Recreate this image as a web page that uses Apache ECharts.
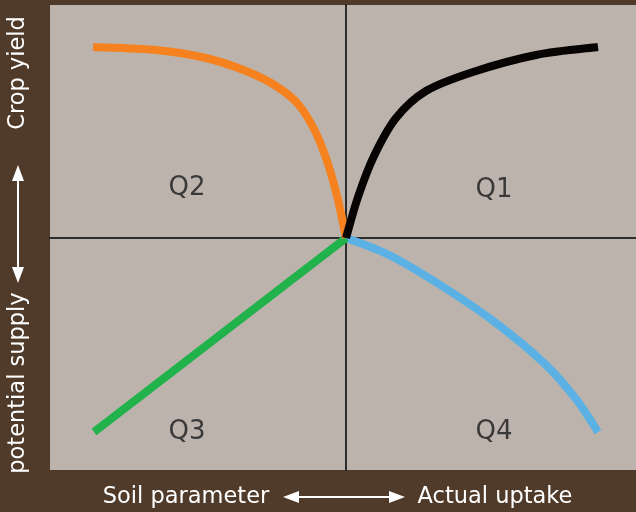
<!DOCTYPE html>
<html>
<head>
<meta charset="utf-8">
<script src="https://cdn.jsdelivr.net/npm/echarts@6/dist/echarts.min.js"></script>
<style>html,body{margin:0;padding:0;}#c{width:636px;height:512px;}</style>
</head>
<body>
<div id="c"></div>
<script>
// Data (x: soil parameter / actual uptake, y: crop yield / potential supply)
const q1Curve = [[0,0],[12,41],[28,82],[50,120],[80,147],[127,166],[190,183],[252,191]];
const q2Curve = [[-253,191],[-190,188],[-140,180],[-100,167],[-70,152],[-48,134],[-31,107],[-18,74],[-8,38],[0,0]];
const q3Line  = [[-252,-194],[0,0]];
const q4Curve = [[0,0],[45,-18],[99,-50],[150,-85],[199,-126],[230,-161],[252,-194]];
const quadrantNames = ['Q1','Q2','Q3','Q4'];
const quadrantAt = [[148,48],[-159,50],[-159,-194],[148,-194]];
const xTitleLeft = 'Soil parameter';
const xTitleRight = 'Actual uptake';
const yTitleTop = 'Crop yield';
const yTitleBottom = 'potential supply';

const chart = echarts.init(document.getElementById('c'));
const FONT = '"DejaVu Sans", Verdana, sans-serif';
const white = '#ffffff';

function arrowH(x1, x2, y) {
  return [
    {type:'line', shape:{x1:x1+10,y1:y,x2:x2-10,y2:y}, style:{stroke:white,lineWidth:2}},
    {type:'polygon', shape:{points:[[x1,y],[x1+16,y-6],[x1+16,y+6]]}, style:{fill:white}},
    {type:'polygon', shape:{points:[[x2,y],[x2-16,y-6],[x2-16,y+6]]}, style:{fill:white}}
  ];
}
function arrowV(y1, y2, x) {
  return [
    {type:'line', shape:{x1:x,y1:y1+10,x2:x,y2:y2-10}, style:{stroke:white,lineWidth:2}},
    {type:'polygon', shape:{points:[[x,y1],[x-6,y1+16],[x+6,y1+16]]}, style:{fill:white}},
    {type:'polygon', shape:{points:[[x,y2],[x-6,y2-16],[x+6,y2-16]]}, style:{fill:white}}
  ];
}

// smooth curve through the data points, positioned with the chart's own axes (api.coord)
function curveSeries(points, color, z) {
  return {
    type:'custom', coordinateSystem:'cartesian2d', z:z, silent:true,
    data:[points[0]],
    renderItem:function(params, api){
      const p = points.map(v => api.coord(v));
      let d = 'M' + p[0][0] + ' ' + p[0][1];
      for (let i = 0; i < p.length - 1; i++) {
        const p0 = p[Math.max(i-1,0)], p1 = p[i], p2 = p[i+1], p3 = p[Math.min(i+2,p.length-1)];
        const c1x = p1[0] + (p2[0]-p0[0])/6, c1y = p1[1] + (p2[1]-p0[1])/6;
        const c2x = p2[0] - (p3[0]-p1[0])/6, c2y = p2[1] - (p3[1]-p1[1])/6;
        d += ' C' + c1x + ' ' + c1y + ' ' + c2x + ' ' + c2y + ' ' + p2[0] + ' ' + p2[1];
      }
      return {type:'path', shape:{pathData:d},
        style:{stroke:color, lineWidth:8, fill:'none', lineCap:'butt', lineJoin:'round'}};
    }
  };
}

chart.setOption({
  animation:false,
  backgroundColor:'#503b2b',
  grid:{left:50,right:0,top:5,bottom:42,show:true,backgroundColor:'#bcb4ac',borderWidth:0},
  xAxis:{type:'value',min:-296,max:290,
    axisLine:{show:true,onZero:true,lineStyle:{color:'#000',width:1.5}},
    axisTick:{show:false},axisLabel:{show:false},splitLine:{show:false}},
  yAxis:{type:'value',min:-232,max:233,
    axisLine:{show:true,onZero:true,lineStyle:{color:'#000',width:1.5}},
    axisTick:{show:false},axisLabel:{show:false},splitLine:{show:false}},
  series:[
    {type:'line',data:q3Line,showSymbol:false,lineStyle:{color:'#21b24b',width:8,cap:'butt'},z:3},
    curveSeries(q4Curve,'#5cb1e4',3),
    curveSeries(q2Curve,'#f5821f',4),
    curveSeries(q1Curve,'#080404',5),
    {type:'scatter',symbolSize:0,silent:true,
      data:quadrantNames.map((n,i)=>({name:n,value:quadrantAt[i]})),
      label:{show:true,position:'inside',formatter:'{b}',color:'#1a1a1a',fontSize:26,fontFamily:FONT}}
  ],
  graphic:[
    {type:'text',x:186,y:497,style:{text:xTitleLeft,fill:white,font:'22.5px '+FONT,align:'center',verticalAlign:'middle'}},
    {type:'text',x:495,y:497,style:{text:xTitleRight,fill:white,font:'22.5px '+FONT,align:'center',verticalAlign:'middle'}},
    {type:'text',x:18,y:73,rotation:Math.PI/2,style:{text:yTitleTop,fill:white,font:'22.5px '+FONT,align:'center',verticalAlign:'middle'}},
    {type:'text',x:18,y:383,rotation:Math.PI/2,style:{text:yTitleBottom,fill:white,font:'22.5px '+FONT,align:'center',verticalAlign:'middle'}},
    ...arrowH(283,405,497),
    ...arrowV(165,283,18)
  ]
});
</script>
</body>
</html>
